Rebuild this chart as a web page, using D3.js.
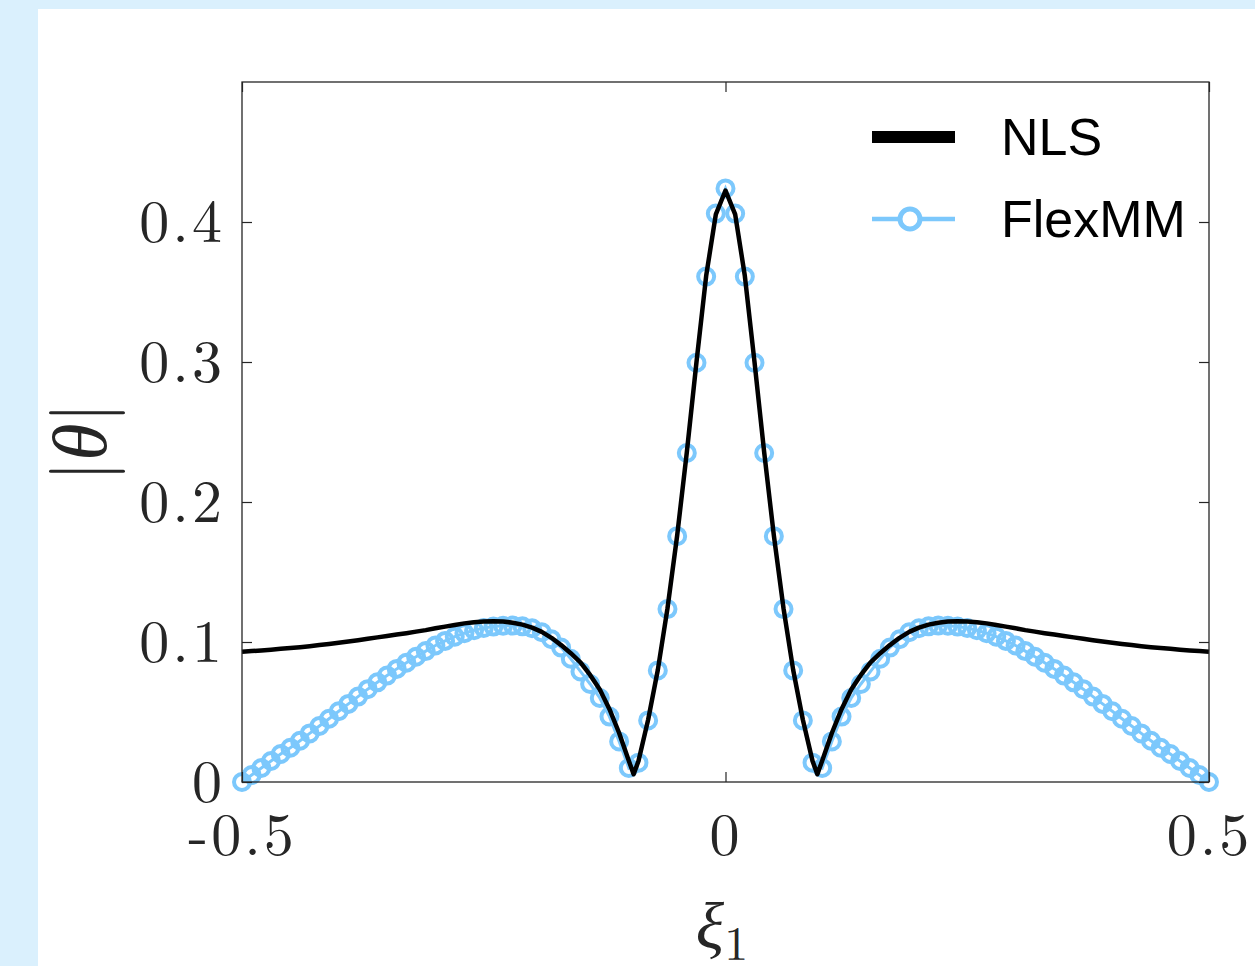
<!DOCTYPE html>
<html>
<head>
<meta charset="utf-8">
<script src="https://cdn.jsdelivr.net/npm/d3@7"></script>
<style>
  html, body { margin: 0; padding: 0; background: #daf0fd; }
  svg { display: block; }
</style>
</head>
<body>
<svg width="1255" height="966"></svg>
<script>
// tick labels
let xTicks = [-0.5, 0, 0.5];
let xTickLabels = ['-0.5', '0', '0.5'];
let yTicks = [0, 0.1, 0.2, 0.3, 0.4];
let yTickLabels = ['0', '0.1', '0.2', '0.3', '0.4'];

// FlexMM samples, xi1 = -0.5 .. 0.5 step 0.01
let flexX = [
  -0.50, -0.49, -0.48, -0.47, -0.46, -0.45, -0.44, -0.43, -0.42, -0.41,
  -0.40, -0.39, -0.38, -0.37, -0.36, -0.35, -0.34, -0.33, -0.32, -0.31,
  -0.30, -0.29, -0.28, -0.27, -0.26, -0.25, -0.24, -0.23, -0.22, -0.21,
  -0.20, -0.19, -0.18, -0.17, -0.16, -0.15, -0.14, -0.13, -0.12, -0.11,
  -0.10, -0.09, -0.08, -0.07, -0.06, -0.05, -0.04, -0.03, -0.02, -0.01,
  0.00,
  0.01, 0.02, 0.03, 0.04, 0.05, 0.06, 0.07, 0.08, 0.09, 0.10,
  0.11, 0.12, 0.13, 0.14, 0.15, 0.16, 0.17, 0.18, 0.19, 0.20,
  0.21, 0.22, 0.23, 0.24, 0.25, 0.26, 0.27, 0.28, 0.29, 0.30,
  0.31, 0.32, 0.33, 0.34, 0.35, 0.36, 0.37, 0.38, 0.39, 0.40,
  0.41, 0.42, 0.43, 0.44, 0.45, 0.46, 0.47, 0.48, 0.49, 0.50];
let flexY = [
  0.0000, 0.0050, 0.0100, 0.0150, 0.0200, 0.0245, 0.0295, 0.0347, 0.0400, 0.0452,
  0.0505, 0.0558, 0.0610, 0.0663, 0.0712, 0.0760, 0.0808, 0.0852, 0.0895, 0.0935,
  0.0975, 0.1008, 0.1038, 0.1063, 0.1084, 0.1100, 0.1110, 0.1116, 0.1117, 0.1112,
  0.1098, 0.1070, 0.1020, 0.0960, 0.0880, 0.0790, 0.0700, 0.0600, 0.0467, 0.0290,
  0.0100, 0.0138, 0.0440, 0.0797, 0.1235, 0.1756, 0.2350, 0.2995, 0.3610, 0.4060,
  0.4240,
  0.4060, 0.3610, 0.2995, 0.2350, 0.1756, 0.1235, 0.0797, 0.0440, 0.0138, 0.0100,
  0.0290, 0.0467, 0.0600, 0.0700, 0.0790, 0.0880, 0.0960, 0.1020, 0.1070, 0.1098,
  0.1112, 0.1117, 0.1116, 0.1110, 0.1100, 0.1084, 0.1063, 0.1038, 0.1008, 0.0975,
  0.0935, 0.0895, 0.0852, 0.0808, 0.0760, 0.0712, 0.0663, 0.0610, 0.0558, 0.0505,
  0.0452, 0.0400, 0.0347, 0.0295, 0.0245, 0.0200, 0.0150, 0.0100, 0.0050, 0.0000];

// NLS curve
let nlsX = [
  -0.50, -0.49, -0.48, -0.47, -0.46, -0.45, -0.44, -0.43, -0.42, -0.41,
  -0.40, -0.39, -0.38, -0.37, -0.36, -0.35, -0.34, -0.33, -0.32, -0.31,
  -0.30, -0.29, -0.28, -0.27, -0.26, -0.25, -0.24, -0.23, -0.22, -0.21,
  -0.20, -0.19, -0.18, -0.17, -0.16, -0.15, -0.14, -0.13, -0.12, -0.11,
  -0.10, -0.095, -0.09, -0.08, -0.07, -0.06, -0.05, -0.04, -0.03, -0.02, -0.01,
  0.00,
  0.01, 0.02, 0.03, 0.04, 0.05, 0.06, 0.07, 0.08, 0.09, 0.095, 0.10,
  0.11, 0.12, 0.13, 0.14, 0.15, 0.16, 0.17, 0.18, 0.19, 0.20,
  0.21, 0.22, 0.23, 0.24, 0.25, 0.26, 0.27, 0.28, 0.29, 0.30,
  0.31, 0.32, 0.33, 0.34, 0.35, 0.36, 0.37, 0.38, 0.39, 0.40,
  0.41, 0.42, 0.43, 0.44, 0.45, 0.46, 0.47, 0.48, 0.49, 0.50];
let nlsY = [
  0.0930, 0.0935, 0.0940, 0.0945, 0.0951, 0.0957, 0.0963, 0.0970, 0.0978, 0.0986,
  0.0995, 0.1004, 0.1013, 0.1023, 0.1033, 0.1043, 0.1053, 0.1063, 0.1074, 0.1085,
  0.1098, 0.1110, 0.1122, 0.1133, 0.1141, 0.1146, 0.1148, 0.1146, 0.1138, 0.1124,
  0.1103, 0.1072, 0.1030, 0.0978, 0.0920, 0.0855, 0.0765, 0.0660, 0.0520, 0.0350,
  0.0152, 0.0055, 0.0150, 0.0445, 0.0800, 0.1240, 0.1760, 0.2355, 0.3000, 0.3615, 0.4055,
  0.4225,
  0.4055, 0.3615, 0.3000, 0.2355, 0.1760, 0.1240, 0.0800, 0.0445, 0.0150, 0.0055, 0.0152,
  0.0350, 0.0520, 0.0660, 0.0765, 0.0855, 0.0920, 0.0978, 0.1030, 0.1072, 0.1103,
  0.1124, 0.1138, 0.1146, 0.1148, 0.1146, 0.1141, 0.1133, 0.1122, 0.1110, 0.1098,
  0.1085, 0.1074, 0.1063, 0.1053, 0.1043, 0.1033, 0.1023, 0.1013, 0.1004, 0.0995,
  0.0986, 0.0978, 0.0970, 0.0963, 0.0957, 0.0951, 0.0945, 0.0940, 0.0935, 0.0930];

let seriesNames = ['NLS', 'FlexMM'];

const svg = d3.select('svg');
const blue = '#7cc8fc', ink = '#262626';
const serif = '"Latin Modern Roman", "CMU Serif", "Liberation Serif", "DejaVu Serif", serif';
const sans = '"Liberation Sans", Arial, Helvetica, sans-serif';

// white paper
svg.append('rect').attr('x', 38).attr('y', 9).attr('width', 1255 - 38).attr('height', 966 - 9).attr('fill', '#fff');

const plotL = 242, plotR = 1209, plotT = 82, plotB = 782;
const x = d3.scaleLinear().domain([-0.5, 0.5]).range([plotL, plotR]);
const y = d3.scaleLinear().domain([0, 0.5]).range([plotB, plotT]);

const g = svg.append('g');

// FlexMM: connecting line, then markers
const flex = flexX.map((d, i) => [d, flexY[i]]);
g.append('path')
  .datum(flex)
  .attr('fill', 'none')
  .attr('stroke', blue)
  .attr('stroke-width', 3)
  .attr('d', d3.line().x(d => x(d[0])).y(d => y(d[1])));

g.selectAll('circle.flex')
  .data(flex)
  .join('circle')
  .attr('class', 'flex')
  .attr('cx', d => x(d[0]))
  .attr('cy', d => y(d[1]))
  .attr('r', 8)
  .attr('fill', 'none')
  .attr('stroke', blue)
  .attr('stroke-width', 4);

// NLS line on top
g.append('path')
  .datum(nlsX.map((d, i) => [d, nlsY[i]]))
  .attr('fill', 'none')
  .attr('stroke', '#000')
  .attr('stroke-width', 4.5)
  .attr('stroke-linejoin', 'round')
  .attr('d', d3.line().x(d => x(d[0])).y(d => y(d[1])));

// axes, ticks pointing inward
function styleAxis(sel) {
  sel.select('.domain').remove();
  sel.selectAll('line').attr('stroke', ink).attr('stroke-width', 1.2);
  sel.selectAll('text').attr('fill', ink).attr('font-family', serif)
    .attr('font-size', 60).attr('letter-spacing', 3);
}

svg.append('g')
  .attr('transform', `translate(0,${plotB})`)
  .call(d3.axisBottom(x).tickValues(xTicks).tickFormat((d, i) => xTickLabels[i])
    .tickSizeInner(-10).tickSizeOuter(0).tickPadding(30))
  .call(styleAxis);

svg.append('g')
  .attr('transform', `translate(0,${plotT})`)
  .call(d3.axisTop(x).tickValues(xTicks).tickFormat('')
    .tickSizeInner(-10).tickSizeOuter(0))
  .call(styleAxis);

svg.append('g')
  .attr('transform', `translate(${plotL},0)`)
  .call(d3.axisLeft(y).tickValues(yTicks).tickFormat((d, i) => yTickLabels[i])
    .tickSizeInner(-10).tickSizeOuter(0).tickPadding(17))
  .call(styleAxis);

svg.append('g')
  .attr('transform', `translate(${plotR},0)`)
  .call(d3.axisRight(y).tickValues(yTicks).tickFormat('')
    .tickSizeInner(-10).tickSizeOuter(0))
  .call(styleAxis);

svg.append('rect')
  .attr('x', plotL).attr('y', plotT)
  .attr('width', plotR - plotL).attr('height', plotB - plotT)
  .attr('fill', 'none').attr('stroke', ink).attr('stroke-width', 1.3);

// axis labels
svg.append('text')
  .attr('x', 722).attr('y', 948)
  .attr('text-anchor', 'middle')
  .attr('font-family', serif).attr('font-size', 66).attr('fill', ink)
  .call(t => {
    t.append('tspan').attr('font-style', 'italic').text('ξ');
    t.append('tspan').attr('font-size', 48).attr('dy', 12).text('1');
  });

svg.append('text')
  .attr('transform', 'translate(106,442) rotate(-90)')
  .attr('text-anchor', 'middle')
  .attr('font-family', serif).attr('font-size', 76).attr('fill', ink)
  .text('|')
  .call(t => {
    t.append('tspan').attr('font-style', 'italic').text('θ');
    t.append('tspan').text('|');
  });

// legend
const legend = svg.append('g');
const legendY = [137, 219];
legend.append('line')
  .attr('x1', 872).attr('x2', 955).attr('y1', legendY[0]).attr('y2', legendY[0])
  .attr('stroke', '#000').attr('stroke-width', 12);
legend.append('line')
  .attr('x1', 872).attr('x2', 955).attr('y1', legendY[1]).attr('y2', legendY[1])
  .attr('stroke', blue).attr('stroke-width', 4.5);
legend.append('circle')
  .attr('cx', 910).attr('cy', legendY[1]).attr('r', 10)
  .attr('fill', '#fff').attr('stroke', blue).attr('stroke-width', 5);
legend.selectAll('text')
  .data(seriesNames)
  .join('text')
  .attr('x', 1001)
  .attr('y', (d, i) => legendY[i] + 18)
  .attr('font-family', sans).attr('font-size', 52).attr('fill', '#000')
  .text(d => d);
</script>
</body>
</html>
